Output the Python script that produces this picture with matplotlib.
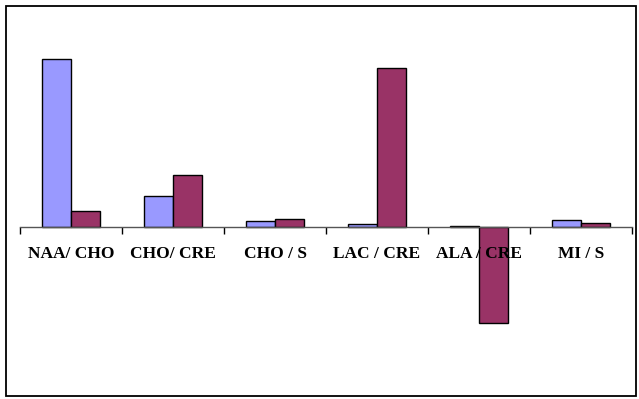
import matplotlib
matplotlib.use("Agg")
import matplotlib.pyplot as plt
from matplotlib.patches import Rectangle
import numpy as np

# ratios (arbitrary units, no y axis shown)
categories = ["NAA/ CHO", "CHO/ CRE", "CHO / S", "LAC / CRE", "ALA / CRE", "MI / S"]
series_a = [168, 31, 5.5, 3, 1, 7]
series_b = [16, 52, 8, 159, -96, 4]

col_a = "#9999FF"
col_b = "#993366"

fig = plt.figure(figsize=(6.39, 3.99), dpi=100)
ax = fig.add_axes([20 / 639, 1 - 380 / 399, 612 / 639, 360 / 399])

x = np.arange(len(categories))
w = 0.285
ax.bar(x - w / 2, series_a, w, color=col_a, edgecolor="black", linewidth=1)
ax.bar(x + w / 2, series_b, w, color=col_b, edgecolor="black", linewidth=1)

ax.set_xlim(-0.5, len(categories) - 0.5)
ax.set_ylim(227 - 380, 227 - 20)

for s in ["top", "right", "left"]:
    ax.spines[s].set_visible(False)
ax.spines["bottom"].set_position(("data", 0))
ax.spines["bottom"].set_color("#555555")
ax.spines["bottom"].set_linewidth(1)
ax.set_yticks([])

ax.set_xticks(x)
ax.set_xticklabels(categories, fontfamily="Liberation Serif", fontweight="bold", fontsize=12.5)
ax.tick_params(axis="x", which="major", length=0, pad=14)
ax.set_xticks(np.arange(len(categories) + 1) - 0.5, minor=True)
ax.tick_params(axis="x", which="minor", length=5, width=1, color="black", direction="out")

fig.patches.append(Rectangle((6 / 639, 3 / 399), 630 / 639, 390 / 399, transform=fig.transFigure,
                             fill=False, edgecolor="black", linewidth=1.3))

fig.savefig("out.png", dpi=100)
